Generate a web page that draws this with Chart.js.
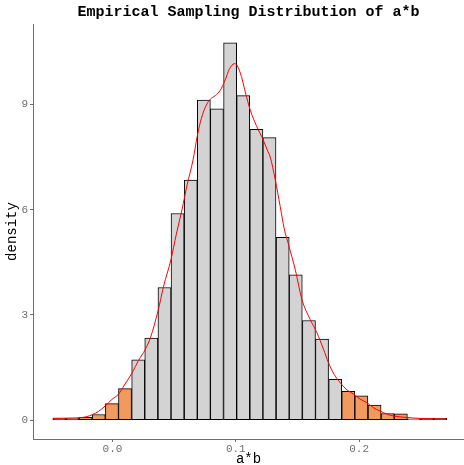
<!DOCTYPE html>
<html>
<head>
<meta charset="utf-8">
<script src="https://cdn.jsdelivr.net/npm/chart.js@4.4.1/dist/chart.umd.min.js"></script>
<style>
  html, body { margin: 0; padding: 0; background: #fff; }
  #wrap { width: 464px; height: 465px; position: relative; }
</style>
</head>
<body>
<div id="wrap"><canvas id="histChart"></canvas></div>
<script>
// ==================== DATA ====================
// bin midpoints (30 bins) of a*b
const binMids = [
    -0.0430, -0.0324, -0.0217, -0.0111, -0.0004, 0.0102, 0.0209, 0.0315, 0.0422, 0.0528,
    0.0635, 0.0741, 0.0847, 0.0954, 0.1060, 0.1167, 0.1273, 0.1380, 0.1486, 0.1593,
    0.1699, 0.1806, 0.1912, 0.2018, 0.2125, 0.2231, 0.2338, 0.2444, 0.2551, 0.2657
];
// histogram density per bin
const binDensity = [
    0.06, 0.06, 0.08, 0.16, 0.47, 0.90, 1.72, 2.34, 3.78, 5.89,
    6.84, 9.12, 8.87, 10.75, 9.25, 8.29, 8.05, 5.21, 4.14, 2.84,
    2.31, 1.16, 0.82, 0.69, 0.43, 0.19, 0.18, 0.04, 0.05, 0.05
];
// tails outside these limits are shaded
const ciLower = 0.0155;
const ciUpper = 0.186;

// kernel density estimate (red line)
const kdeX = [
    -0.0483, -0.0324, -0.0219, -0.0160, -0.0113, -0.0057, -0.0008, 0.0049, 0.0097, 0.0160,
    0.0211, 0.0267, 0.0308, 0.0370, 0.0415, 0.0474, 0.0518, 0.0564, 0.0605, 0.0653,
    0.0688, 0.0721, 0.0761, 0.0794, 0.0834, 0.0874, 0.0915, 0.0947, 0.0988, 0.1012,
    0.1045, 0.1077, 0.1117, 0.1166, 0.1223, 0.1255, 0.1279, 0.1320, 0.1360, 0.1393,
    0.1428, 0.1482, 0.1536, 0.1603, 0.1658, 0.1711, 0.1751, 0.1798, 0.1846, 0.1895,
    0.1954, 0.2008, 0.2062, 0.2113, 0.2170, 0.2227, 0.2278, 0.2372, 0.2494, 0.2599, 0.2710
];
const kdeY = [
    0.05, 0.06, 0.09, 0.16, 0.25, 0.41, 0.58, 0.74, 1.00, 1.35,
    1.70, 2.02, 2.35, 3.12, 3.82, 4.57, 5.30, 6.00, 6.70, 7.41,
    8.10, 8.60, 8.98, 9.15, 9.25, 9.40, 9.70, 10.00, 10.16, 10.10,
    9.80, 9.35, 8.84, 8.40, 7.98, 7.70, 7.50, 6.85, 6.09, 5.45,
    5.00, 4.29, 3.44, 2.87, 2.49, 2.02, 1.64, 1.30, 1.07, 0.88,
    0.74, 0.60, 0.50, 0.36, 0.26, 0.17, 0.12, 0.08, 0.05, 0.04, 0.03
];

const xTicks = [0.0, 0.1, 0.2];
const yTicks = [0, 3, 6, 9];

// ==================== CHART ====================
const monoFont = "'Liberation Mono', 'Courier New', monospace";
const axisGray = '#6e6e6e';

const barColors = binMids.map(function(m) {
    return (m < ciLower || m > ciUpper) ? '#F29A5E' : '#D3D3D3';
});

new Chart(document.getElementById('histChart'), {
    data: {
        datasets: [
            {
                type: 'line',
                data: kdeX.map(function(x, i) { return {x: x, y: kdeY[i]}; }),
                borderColor: '#FF0000',
                borderWidth: 1,
                pointRadius: 0,
                cubicInterpolationMode: 'monotone',
                fill: false,
                order: 0
            },
            {
                type: 'bar',
                data: binMids.map(function(x, i) { return {x: x, y: binDensity[i]}; }),
                backgroundColor: barColors,
                borderColor: '#000',
                borderWidth: 1,
                borderSkipped: false,
                barPercentage: 1,
                categoryPercentage: 1,
                order: 1
            }
        ]
    },
    options: {
        responsive: true,
        maintainAspectRatio: false,
        animation: false,
        layout: { padding: 0 },
        plugins: {
            legend: { display: false },
            tooltip: { enabled: false },
            title: {
                display: true,
                text: 'Empirical Sampling Distribution of a*b',
                fullSize: false,
                color: '#000',
                font: { family: monoFont, size: 15, weight: 'bold', lineHeight: 1.2 },
                padding: { top: 3, bottom: 3 }
            }
        },
        scales: {
            x: {
                type: 'linear',
                offset: false,
                min: -0.0644,
                max: 0.285,
                afterBuildTicks: function(scale) {
                    scale.ticks = xTicks.map(function(v) { return {value: v}; });
                },
                afterFit: function(scale) { scale.height = 26; },
                grid: { offset: false, drawOnChartArea: false, drawTicks: true, tickLength: 3, color: axisGray },
                border: { display: true, color: axisGray, width: 1 },
                ticks: {
                    padding: 0,
                    color: axisGray,
                    font: { family: monoFont, size: 11 },
                    callback: function(v) { return v.toFixed(1); }
                },
                title: {
                    display: true,
                    text: 'a*b',
                    color: '#000',
                    font: { family: monoFont, size: 14, lineHeight: 1 },
                    padding: { top: 0, bottom: -1 }
                }
            },
            y: {
                type: 'linear',
                min: -0.5375,
                max: 11.29,
                afterBuildTicks: function(scale) {
                    scale.ticks = yTicks.map(function(v) { return {value: v}; });
                },
                afterFit: function(scale) { scale.width = 33; },
                grid: { offset: false, drawOnChartArea: false, drawTicks: true, tickLength: 3, color: axisGray },
                border: { display: true, color: axisGray, width: 1 },
                ticks: {
                    padding: 2,
                    color: axisGray,
                    font: { family: monoFont, size: 11 }
                },
                title: {
                    display: true,
                    text: 'density',
                    color: '#000',
                    font: { family: monoFont, size: 14, lineHeight: 1.2 },
                    padding: { top: 4, bottom: 0 }
                }
            }
        }
    }
});
</script>
</body>
</html>
